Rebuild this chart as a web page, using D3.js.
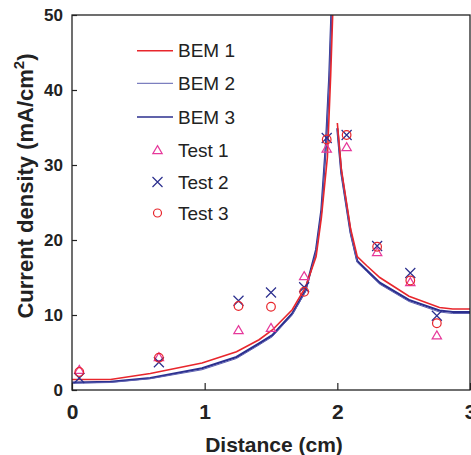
<!DOCTYPE html>
<meta charset="utf-8">
<html>
<head>
<script src="https://d3js.org/d3.v7.min.js"></script>
<style>
  body { margin: 0; background: #fff; }
  text { font-family: "Liberation Sans", Arial, sans-serif; }
</style>
</head>
<body>
<div id="chart"></div>
<script>
// BEM curves, left branch (up to the peak) and right branch (after x = 2)
const bemLeftX = [0, 0.29, 0.59, 0.98, 1.24, 1.41, 1.51, 1.66, 1.76, 1.84, 1.88, 1.925, 1.95, 1.965, 1.972];
const bem1Left = [1.4, 1.4, 2.2, 3.6, 5.1, 6.7, 8.0, 10.7, 13.7, 17.8, 23, 31, 42, 50, 55];
const bemLeftX3 = [0, 0.29, 0.59, 0.98, 1.24, 1.41, 1.51, 1.66, 1.76, 1.84, 1.88, 1.915, 1.94, 1.955, 1.962];
const bem2Left = [0.9, 1.0, 1.5, 2.7, 4.2, 6.0, 7.1, 10.0, 13.1, 18.5, 23.8, 32.8, 42, 50, 55];
const bem3Left = [1.0, 1.1, 1.6, 2.9, 4.4, 6.2, 7.3, 10.2, 13.3, 18.7, 24, 33, 42, 50, 55];

const bemRightX = [2.0, 2.03, 2.065, 2.10, 2.15, 2.22, 2.32, 2.54, 2.77, 2.87, 3.0];
const bem1Right = [35.6, 29.5, 25.5, 21.5, 17.8, 16.6, 15.0, 12.5, 11.0, 10.8, 10.8];
const bem2Right = [34.6, 28.8, 24.8, 20.8, 17.0, 15.8, 14.1, 11.8, 10.4, 10.2, 10.2];
const bem3Right = [34.9, 29.0, 25.0, 21.0, 17.2, 16.0, 14.3, 12.0, 10.6, 10.4, 10.4];

// measured points
const testX = [0.055, 0.655, 1.255, 1.5, 1.75, 1.92, 2.07, 2.3, 2.55, 2.75];
const test1 = [2.7, 4.4, 8.0, 8.3, 15.2, 32.2, 32.4, 18.4, 14.4, 7.3];
const test2 = [1.6, 3.7, 11.9, 13.0, 13.7, 33.6, 34.0, 19.2, 15.6, 9.9];
const test3 = [2.4, 4.3, 11.2, 11.1, 13.1, 33.4, 34.0, 19.1, 14.6, 8.9];

const xTicks = [0, 1, 2, 3];
const yTicks = [0, 10, 20, 30, 40, 50];
const legendNames = ["BEM 1", "BEM 2", "BEM 3", "Test 1", "Test 2", "Test 3"];

const W = 471, H = 455;
const pLeft = 72, pRight = 470, pTop = 15, pBottom = 390;

const svg = d3.select("#chart").append("svg")
    .attr("width", W).attr("height", H);

const x = d3.scaleLinear().domain([0, 3]).range([pLeft, pRight]);
const y = d3.scaleLinear().domain([0, 50]).range([pBottom, pTop]);

const red = "#e8262c", magenta = "#e6399b", navy = "#2b2f8e", lightBlue = "#5c5fb0";

svg.append("clipPath").attr("id", "clip")
  .append("rect").attr("x", pLeft).attr("y", pTop).attr("width", pRight - pLeft).attr("height", pBottom - pTop);

const plot = svg.append("g").attr("clip-path", "url(#clip)");

const line = d3.line().x(d => x(d[0])).y(d => y(d[1]));
const zip = (xs, ys) => xs.map((v, i) => [v, ys[i]]);

const curves = [
  { xs: bemLeftX3, l: bem3Left, r: bem3Right, color: navy, w: 2.2 },
  { xs: bemLeftX3, l: bem2Left, r: bem2Right, color: lightBlue, w: 1 },
  { xs: bemLeftX, l: bem1Left, r: bem1Right, color: red, w: 1.6 }
];
curves.forEach(c => {
  plot.append("path").datum(zip(c.xs, c.l)).attr("d", line)
    .attr("fill", "none").attr("stroke", c.color).attr("stroke-width", c.w);
  plot.append("path").datum(zip(bemRightX, c.r)).attr("d", line)
    .attr("fill", "none").attr("stroke", c.color).attr("stroke-width", c.w);
});

// markers
const tri = d3.symbol().type(d3.symbolTriangle).size(38);
function drawTriangles(g, pts, color) {
  g.selectAll(null).data(pts).enter().append("path")
    .attr("d", tri)
    .attr("transform", d => `translate(${x(d[0])},${y(d[1]) + 1})`)
    .attr("fill", "none").attr("stroke", color).attr("stroke-width", 1.2);
}
function drawCrosses(g, pts, color) {
  g.selectAll(null).data(pts).enter().append("path")
    .attr("d", "M-5,-5L5,5M-5,5L5,-5")
    .attr("transform", d => `translate(${x(d[0])},${y(d[1])})`)
    .attr("fill", "none").attr("stroke", color).attr("stroke-width", 1.2);
}
function drawCircles(g, pts, color) {
  g.selectAll(null).data(pts).enter().append("circle")
    .attr("cx", d => x(d[0])).attr("cy", d => y(d[1])).attr("r", 4.3)
    .attr("fill", "none").attr("stroke", color).attr("stroke-width", 1.2);
}
drawTriangles(svg, zip(testX, test1), magenta);
drawCrosses(svg, zip(testX, test2), navy);
drawCircles(svg, zip(testX, test3), red);

// frame
svg.append("rect").attr("x", pLeft).attr("y", pTop)
  .attr("width", pRight - pLeft).attr("height", pBottom - pTop)
  .attr("fill", "none").attr("stroke", "#222").attr("stroke-width", 1.3);

// axes with inward ticks
const xAxis = svg.append("g").attr("transform", `translate(0,${pBottom})`)
  .call(d3.axisBottom(x).tickValues(xTicks).tickSize(-7).tickPadding(14).tickFormat(d3.format("d")));
xAxis.select(".domain").remove();
xAxis.selectAll("line").attr("stroke", "#222").attr("stroke-width", 1.2);
xAxis.selectAll("text").attr("font-size", 21).attr("font-weight", "bold").attr("fill", "#222");

const yAxis = svg.append("g").attr("transform", `translate(${pLeft},0)`)
  .call(d3.axisLeft(y).tickValues(yTicks).tickSize(-5).tickPadding(9));
yAxis.select(".domain").remove();
yAxis.selectAll("line").attr("stroke", "#222").attr("stroke-width", 1.2);
yAxis.selectAll("text").attr("font-size", 17).attr("font-weight", "bold").attr("fill", "#222");

// axis titles
svg.append("text").attr("x", (pLeft + pRight) / 2 + 3).attr("y", 452)
  .attr("text-anchor", "middle").attr("font-size", 21).attr("font-weight", "bold")
  .attr("fill", "#222").text("Distance (cm)");

const yt = svg.append("text")
  .attr("transform", "translate(33,186) rotate(-90)")
  .attr("text-anchor", "middle").attr("font-size", 22).attr("font-weight", "bold")
  .attr("fill", "#222");
yt.append("tspan").text("Current density (mA/cm");
yt.append("tspan").attr("font-size", 15).attr("dy", -9).text("2");
yt.append("tspan").attr("dy", 9).text(")");

// legend
const legY = [50.7, 83.3, 117, 150, 182, 213];
const lg = svg.append("g");
[red, lightBlue, navy].forEach((c, i) => {
  lg.append("line").attr("x1", 137).attr("x2", 173).attr("y1", legY[i]).attr("y2", legY[i])
    .attr("stroke", c).attr("stroke-width", [1.6, 1, 1.6][i]);
});
lg.append("path").attr("d", tri).attr("transform", `translate(157.5,${legY[3] + 1})`)
  .attr("fill", "none").attr("stroke", magenta).attr("stroke-width", 1.2);
lg.append("path").attr("d", "M-5,-5L5,5M-5,5L5,-5").attr("transform", `translate(157.5,${legY[4]})`)
  .attr("fill", "none").attr("stroke", navy).attr("stroke-width", 1.2);
lg.append("circle").attr("cx", 157.5).attr("cy", legY[5]).attr("r", 4)
  .attr("fill", "none").attr("stroke", red).attr("stroke-width", 1.2);
legendNames.forEach((n, i) => {
  lg.append("text").attr("x", 178).attr("y", legY[i]).attr("dy", "0.35em")
    .attr("font-size", 19).attr("fill", "#222").text(n);
});
</script>
</body>
</html>
